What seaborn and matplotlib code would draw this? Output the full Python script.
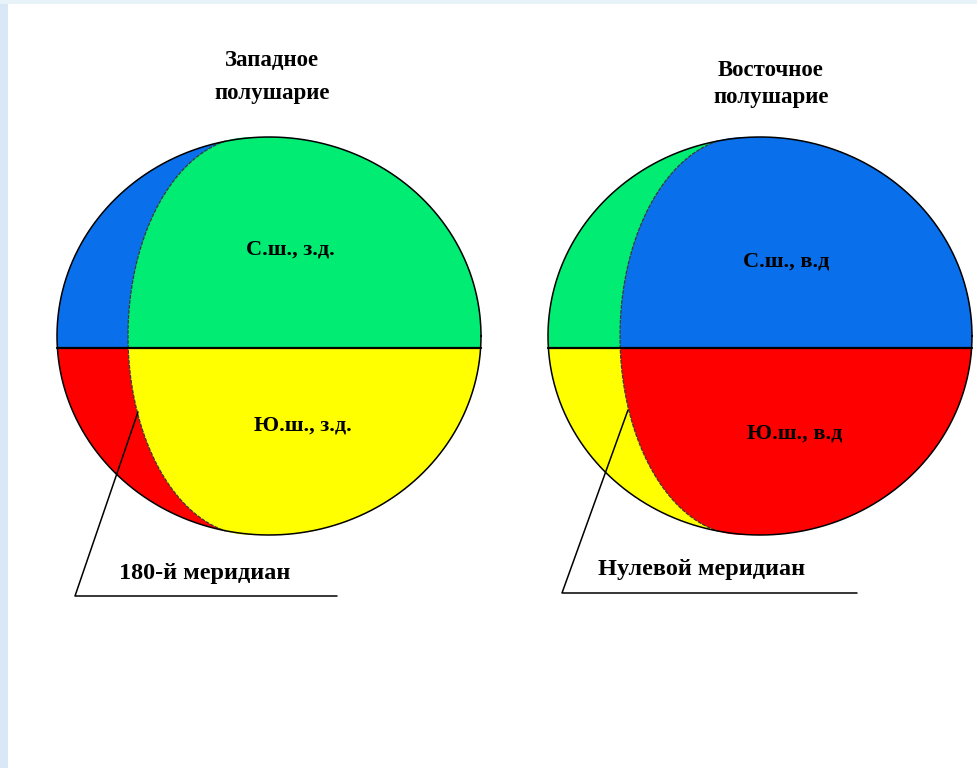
import numpy as np
import matplotlib
matplotlib.use("Agg")
import matplotlib.pyplot as plt
import seaborn as sns

sns.set_theme(style="white")
plt.rcParams['font.family'] = ['Liberation Serif', 'DejaVu Serif']

# globe geometry in picture pixels: centre x, centre y, half width, half height,
# meridian centre x, meridian half width, equator y
globe_cx = [269, 760]
globe_cy = [336, 336]
globe_rx = [212, 212]
globe_ry = [199, 199]
meridian_cx = [250, 742]
meridian_rx = [122, 122]
equator_y = [348, 348]

# colours: back-north, back-south, front-north, front-south
back_north = ["#0a6fea", "#00ec72"]
back_south = ["#ff0000", "#ffff00"]
front_north = ["#00ec72", "#0a6fea"]
front_south = ["#ffff00", "#ff0000"]

title_top = ["Западное", "Восточное"]
title_bottom = ["полушарие", "полушарие"]
title_x = [272, 771]
title_top_y = [61, 70]
title_bottom_y = [94, 97]
north_labels = ["С.ш., з.д.", "С.ш., в.д"]
north_xy = [(290, 250), (786, 261)]
south_labels = ["Ю.ш., з.д.", "Ю.ш., в.д"]
south_xy = [(303, 425), (795, 434)]
meridian_labels = ["180-й меридиан", "Нулевой меридиан"]
meridian_label_xy = [(205, 573), (702, 570)]
leader_pts = [[(138, 412), (75, 596), (337, 596)], [(628, 410), (562, 593), (857, 593)]]

fig = plt.figure(figsize=(9.77, 7.68), dpi=100)
ax = fig.add_axes([0, 0, 1, 1])
ax.set_xlim(0, 977)
ax.set_ylim(768, 0)
ax.axis("off")

# light blue frame strips
ax.fill_between([0, 8], 0, 768, color="#d8e8f6", lw=0)
ax.fill_between([0, 977], 0, 4, color="#e8f2f9", lw=0)


def half(y0, y1, n=200):
    return np.linspace(y0, y1, n)


for i in range(2):
    cx, cy, rx, ry = globe_cx[i], globe_cy[i], globe_rx[i], globe_ry[i]
    mx, mr, eq = meridian_cx[i], meridian_rx[i], equator_y[i]
    top, bot = cy - ry, cy + ry

    def xo_left(y):
        return cx - rx * np.sqrt(np.clip(1 - ((y - cy) / ry) ** 2, 0, 1))

    def xo_right(y):
        return cx + rx * np.sqrt(np.clip(1 - ((y - cy) / ry) ** 2, 0, 1))

    def xm(y):
        return mx - mr * np.sqrt(np.clip(1 - ((y - cy) / ry) ** 2, 0, 1))

    yn = half(eq, top)
    ys = half(eq, bot)
    # back halves
    ax.fill(np.r_[xo_left(yn), xo_right(yn[::-1])], np.r_[yn, yn[::-1]],
            color=back_north[i], lw=0)
    ax.fill(np.r_[xo_left(ys), xo_right(ys[::-1])], np.r_[ys, ys[::-1]],
            color=back_south[i], lw=0)
    # front halves
    ax.fill(np.r_[xm(yn), xo_right(yn[::-1])], np.r_[yn, yn[::-1]],
            color=front_north[i], lw=0)
    ax.fill(np.r_[xm(ys), xo_right(ys[::-1])], np.r_[ys, ys[::-1]],
            color=front_south[i], lw=0)
    # meridian
    yy = half(top + 4, bot - 4, 400)
    ax.plot(xm(yy), yy, color="#3a3a3a", lw=0.9, ls=(0, (3, 1)))
    # outline
    t = np.linspace(0, 2 * np.pi, 400)
    ax.plot(cx + rx * np.cos(t), cy + ry * np.sin(t), color="black", lw=1.1)
    # equator
    sns.lineplot(x=[xo_left(eq), xo_right(eq)], y=[eq, eq], color="black",
                 lw=1.6, ax=ax, sort=False)
    # leader line
    px = [p[0] for p in leader_pts[i]]
    py = [p[1] for p in leader_pts[i]]
    sns.lineplot(x=px, y=py, color="black", lw=1.1, ax=ax, sort=False)

    ax.text(title_x[i], title_top_y[i], title_top[i], ha="center", va="center",
            fontsize=16.5, fontweight="bold", color="black")
    ax.text(title_x[i], title_bottom_y[i], title_bottom[i], ha="center",
            va="center", fontsize=16.5, fontweight="bold", color="black")
    ax.text(*north_xy[i], north_labels[i], ha="center", va="center",
            fontsize=16, fontweight="bold", color="black")
    ax.text(*south_xy[i], south_labels[i], ha="center", va="center",
            fontsize=16, fontweight="bold", color="black")
    ax.text(*meridian_label_xy[i], meridian_labels[i], ha="center",
            va="center", fontsize=17.5, fontweight="bold", color="black")

fig.savefig("out.png", dpi=100)
